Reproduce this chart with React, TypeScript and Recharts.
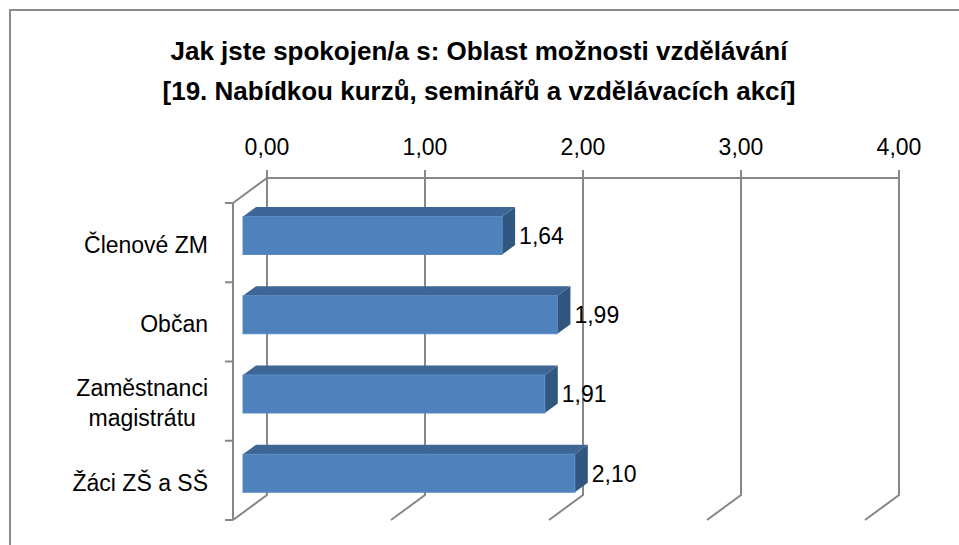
import React from 'react';
import { BarChart, Bar, XAxis, YAxis, CartesianGrid } from 'recharts';

const titleLines = [
  'Jak jste spokojen/a s: Oblast možnosti vzdělávání',
  '[19. Nabídkou kurzů, seminářů a vzdělávacích akcí]',
];
const categories = ['Členové ZM', 'Občan', 'Zaměstnanci magistrátu', 'Žáci ZŠ a SŠ'];
const values = [1.64, 1.99, 1.91, 2.1];
const xTicks = [0, 1, 2, 3, 4];

const data = categories.map((name, i) => ({ name, value: values[i] }));

const W = 959;
const H = 545;
const FONT = "'Liberation Sans', Arial, sans-serif";
const GRID = '#878787';
const DX = 34; // wall depth (x)
const DY = -25; // wall depth (y)
const FRONT_DX = 10; // bar front plane offset
const FRONT_DY = -7.5;
const BAR_DX = 13; // bar depth
const BAR_DY = -9.5;
const LABEL_SIZE = 23;

const fmt = (v: number) => v.toFixed(2).replace('.', ',');

let ctx: CanvasRenderingContext2D | null = null;
const measure = (t: string, font: string) => {
  if (!ctx) ctx = document.createElement('canvas').getContext('2d');
  if (!ctx) return t.length * 11;
  ctx.font = font;
  return ctx.measureText(t).width;
};

const wrap = (t: string, maxW: number, font: string) => {
  const words = t.split(' ');
  const lines: string[] = [];
  let cur = '';
  words.forEach((w) => {
    const test = cur ? cur + ' ' + w : w;
    if (cur && measure(test, font) > maxW) {
      lines.push(cur);
      cur = w;
    } else cur = test;
  });
  if (cur) lines.push(cur);
  return lines;
};

const GridLine = (props: any) => {
  const { x1, y1, y2, index } = props;
  return (
    <g key={`g-${index}`}>
      <path
        d={`M${x1 + DX},${y1 + DY - 8} L${x1 + DX},${y2 + DY} L${x1},${y2}`}
        stroke={GRID}
        strokeWidth={2}
        fill="none"
      />
      {index === 0 && (
        <path d={`M${x1},${y1} L${x1 + DX},${y1 + DY}`} stroke={GRID} strokeWidth={2} fill="none" />
      )}
    </g>
  );
};

const XTick = (props: any) => {
  const { x, y, payload } = props;
  return (
    <text
      x={x + DX}
      y={y + DY - 23}
      textAnchor="middle"
      fontFamily={FONT}
      fontSize={LABEL_SIZE}
      fill="#000"
    >
      {fmt(payload.value)}
    </text>
  );
};

const YTick = (props: any) => {
  const { x, y, payload, index, visibleTicksCount } = props;
  const off = payload.offset ?? 39.6;
  const font = `${LABEL_SIZE}px ${FONT}`;
  const lines = wrap(String(payload.value), 160, font);
  const widths = lines.map((l) => measure(l, font));
  const blockW = Math.max(...widths);
  const right = x - 25;
  const lh = 30;
  const cy = y + 2;
  const isLast = index === (visibleTicksCount ?? categories.length) - 1;
  return (
    <g>
      <line x1={x - 8} y1={y - off} x2={x} y2={y - off} stroke={GRID} strokeWidth={2} />
      {isLast && <line x1={x - 8} y1={y + off} x2={x} y2={y + off} stroke={GRID} strokeWidth={2} />}
      {lines.map((l, i) => (
        <text
          key={i}
          x={lines.length > 1 ? right - blockW / 2 : right}
          y={cy + (i - (lines.length - 1) / 2) * lh + 0.36 * LABEL_SIZE}
          textAnchor={lines.length > 1 ? 'middle' : 'end'}
          fontFamily={FONT}
          fontSize={LABEL_SIZE}
          fill="#000"
        >
          {l}
        </text>
      ))}
    </g>
  );
};

const Bar3D = (props: any) => {
  const { x, y, width, height, payload } = props;
  const fx = x + FRONT_DX;
  const fy = y + FRONT_DY;
  const w = width;
  const h = height;
  const v = payload?.value ?? props.value;
  return (
    <g>
      <polygon
        points={`${fx},${fy} ${fx + BAR_DX},${fy + BAR_DY} ${fx + w + BAR_DX},${fy + BAR_DY} ${fx + w},${fy}`}
        fill="#3D6696"
      />
      <polygon
        points={`${fx + w},${fy} ${fx + w + BAR_DX},${fy + BAR_DY} ${fx + w + BAR_DX},${fy + h + BAR_DY} ${fx + w},${fy + h}`}
        fill="#32577F"
      />
      <rect x={fx} y={fy} width={w} height={h} fill="#4F81BD" stroke="#5A8AC4" strokeWidth={1} />
      <text
        x={fx + w + BAR_DX + 4}
        y={fy + h / 2 + 0.36 * LABEL_SIZE}
        fontFamily={FONT}
        fontSize={LABEL_SIZE}
        fill="#000"
      >
        {fmt(v)}
      </text>
    </g>
  );
};

export default function App() {
  return (
    <div style={{ position: 'absolute', left: 0, top: 0, width: W, height: H, background: '#fff', overflow: 'hidden' }}>
      <svg width={W} height={H} style={{ position: 'absolute', left: 0, top: 0 }}>
        <rect x={10} y={10} width={W + 20} height={H + 20} fill="#fff" stroke="#8C8C8C" strokeWidth={2} />
        {titleLines.map((t, i) => (
          <text
            key={i}
            x={479}
            y={60 + i * 40}
            textAnchor="middle"
            fontFamily={FONT}
            fontWeight="bold"
            fontSize={26}
            fill="#000"
          >
            {t}
          </text>
        ))}
      </svg>
      <div style={{ position: 'absolute', left: 0, top: 0 }}>
        <BarChart
          width={W}
          height={H}
          data={data}
          layout="vertical"
          margin={{ top: 143, right: 94, bottom: 25, left: 33 }}
          barSize={38}
        >
          <CartesianGrid horizontal={false} vertical={GridLine} />
          <XAxis
            type="number"
            orientation="top"
            domain={[0, 4]}
            ticks={xTicks}
            height={60}
            tickSize={0}
            tickMargin={0}
            tickLine={false}
            axisLine={{ stroke: GRID, strokeWidth: 2, transform: `translate(${DX},${DY})` }}
            tick={XTick}
            interval={0}
          />
          <YAxis
            type="category"
            dataKey="name"
            width={200}
            tickSize={0}
            tickMargin={0}
            tickLine={false}
            axisLine={{ stroke: GRID, strokeWidth: 2 }}
            tick={YTick}
            interval={0}
          />
          <Bar dataKey="value" shape={Bar3D} isAnimationActive={false} />
        </BarChart>
      </div>
    </div>
  );
}
